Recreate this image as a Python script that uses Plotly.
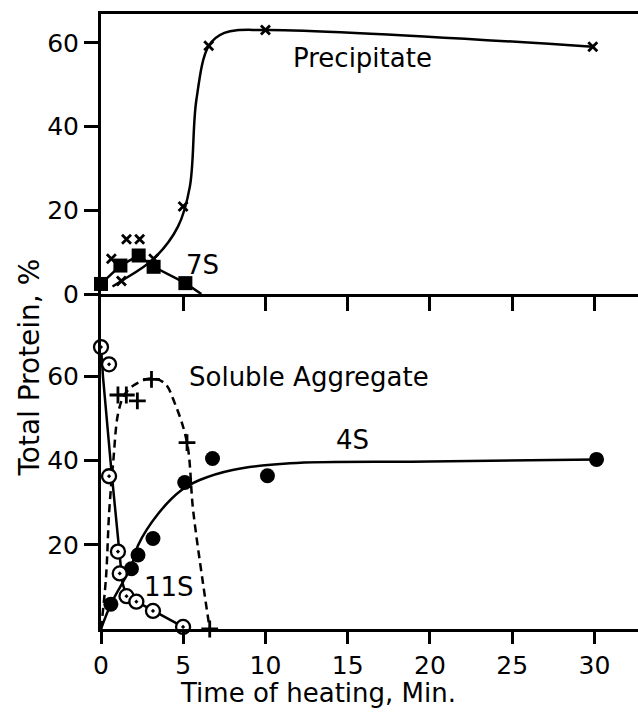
import plotly.graph_objects as go

# ---- Upper panel: precipitate and 7S fraction (% of total protein) ----
prec_t = [0.63, 1.24, 1.55, 2.35, 3.2, 4.99, 6.55, 10.0, 29.9]
prec_v = [8.4, 3.1, 13.1, 13.1, 8.4, 20.9, 59.3, 63.1, 59.1]
prec_fit_t = [0.7, 1.24, 3.2, 4.68, 5.4, 5.8, 6.55, 7.5, 10.0, 29.9]
prec_fit_v = [1.8, 3.1, 8.4, 16.1, 25.6, 46.4, 59.3, 62.4, 63.1, 59.1]

s7_t = [0.0, 1.18, 2.29, 3.2, 5.13]
s7_v = [2.4, 6.8, 9.2, 6.5, 2.6]
s7_fit_t = [0.0, 1.18, 2.29, 3.2, 5.13, 5.7, 6.1]
s7_fit_v = [2.4, 6.8, 9.2, 6.5, 2.6, 1.0, 0.0]

# ---- Lower panel: 11S, 4S and soluble aggregate ----
s11_t = [0.0, 0.49, 0.49, 1.03, 1.14, 1.55, 2.15, 3.16, 4.99]
s11_v = [67.0, 62.9, 36.3, 18.4, 13.2, 7.8, 6.5, 4.3, 0.5]
s11_fit_t = [0.0, 0.12, 0.6, 1.06, 1.3, 1.55, 2.15, 3.16, 4.99]
s11_fit_v = [67.0, 60.0, 39.0, 19.5, 11.0, 7.8, 6.5, 4.3, 0.5]

s4_t = [0.6, 1.85, 2.25, 3.16, 5.09, 6.78, 10.12, 30.13]
s4_v = [5.9, 14.3, 17.6, 21.5, 34.8, 40.5, 36.4, 40.3]
s4_fit_t = [0.0, 0.6, 1.85, 2.24, 3.5, 4.9, 6.0, 8.0, 11.5, 20.0, 30.13]
s4_fit_v = [0.0, 5.9, 15.0, 19.8, 27.5, 33.0, 35.4, 37.8, 39.4, 39.8, 40.3]

agg_t = [1.03, 1.54, 2.21, 3.07, 5.23, 6.61]
agg_v = [55.6, 55.6, 54.2, 59.3, 44.3, 0.0]
agg_fit_t = [0.0, 0.3, 0.5, 0.75, 1.03, 1.4, 1.95, 3.0, 3.87, 4.5, 5.23, 5.6, 6.2, 6.61]
agg_fit_v = [0.0, 12.0, 28.0, 40.0, 51.0, 55.5, 57.8, 59.5, 58.4, 53.5, 44.3, 28.3, 10.9, 0.0]

x_ticks_top = [5, 10, 15, 20, 25, 30]
x_ticks_bottom = [0, 5, 10, 15, 20, 25, 30]
y_ticks_top = [0, 20, 40, 60]
y_ticks_bottom = [20, 40, 60]

FONT = "DejaVu Sans, Liberation Sans, sans-serif"
INK = "black"

fig = go.Figure()

def curve(t, v, xa, ya, dash="solid", shape="spline"):
    fig.add_trace(go.Scatter(x=t, y=v, xaxis=xa, yaxis=ya, mode="lines",
                             line=dict(color=INK, width=2.5, dash=dash, shape=shape, smoothing=1.0),
                             hoverinfo="skip", showlegend=False))

def points(t, v, xa, ya, symbol, size, lw=0, fill=INK):
    fig.add_trace(go.Scatter(x=t, y=v, xaxis=xa, yaxis=ya, mode="markers", cliponaxis=False,
                             marker=dict(symbol=symbol, size=size, color=fill,
                                         line=dict(color=INK, width=lw)),
                             showlegend=False))

# upper panel
curve(prec_fit_t, prec_fit_v, "x", "y")
curve(s7_fit_t, s7_fit_v, "x", "y", shape="linear")
points(s7_t, s7_v, "x", "y", "square", 14)
points(prec_t, prec_v, "x", "y", "x-thin", 9, lw=2.8)

# lower panel
curve(agg_fit_t, agg_fit_v, "x2", "y2", dash="8px,5px")
curve(s11_fit_t, s11_fit_v, "x2", "y2", shape="linear")
curve(s4_fit_t, s4_fit_v, "x2", "y2")
points(s4_t, s4_v, "x2", "y2", "circle", 15)
points(s11_t, s11_v, "x2", "y2", "circle-dot", 14, lw=2.3, fill="white")
points(agg_t, agg_v, "x2", "y2", "cross-thin", 12, lw=2.8)

x_range = [0, 32.65]
split = 0.5447

axis_common = dict(showline=True, linecolor=INK, linewidth=3, ticks="outside",
                   tickcolor=INK, tickwidth=2.5, ticklen=14, showgrid=False, zeroline=False,
                   tickfont=dict(family=FONT, size=25, color=INK))

fig.update_layout(
    width=638, height=713,
    margin=dict(l=101, r=0, t=14, b=84),
    paper_bgcolor="white", plot_bgcolor="white",
    font=dict(family=FONT, color=INK),
    xaxis=dict(axis_common, domain=[0, 1], range=x_range, anchor="y", mirror=True,
               tickmode="array", tickvals=x_ticks_top, showticklabels=False),
    yaxis=dict(axis_common, domain=[split, 1], range=[0, 66.9], anchor="x",
               tickmode="array", tickvals=y_ticks_top),
    xaxis2=dict(axis_common, domain=[0, 1], range=x_range, anchor="y2",
                tickmode="array", tickvals=x_ticks_bottom, ticklen=12, ticklabelstandoff=0),
    yaxis2=dict(axis_common, domain=[0, split], range=[0, 79.6], anchor="x2",
                tickmode="array", tickvals=y_ticks_bottom),
)

def label(text, x, y, xa, ya, size=26):
    fig.add_annotation(text=text, x=x, y=y, xref=xa, yref=ya, showarrow=False,
                       xanchor="center", yanchor="middle",
                       font=dict(family=FONT, size=size, color=INK))

label("Precipitate", 15.9, 56.3, "x", "y")
label("7S", 6.16, 6.9, "x", "y")
label("Soluble Aggregate", 12.63, 59.8, "x2", "y2")
label("4S", 15.28, 44.9, "x2", "y2")
label("11S", 4.13, 10.0, "x2", "y2")

fig.add_annotation(text="Time of heating, Min.", x=0.404, y=-0.104, xref="paper", yref="paper",
                   xanchor="center", yanchor="middle",
                   showarrow=False, font=dict(family=FONT, size=26, color=INK))
fig.add_annotation(text="Total Protein, %", x=-0.133, y=0.4244, xref="paper", yref="paper",
                   xanchor="center", yanchor="middle",
                   textangle=-90, showarrow=False, font=dict(family=FONT, size=28, color=INK))

fig.write_html("out.html")
